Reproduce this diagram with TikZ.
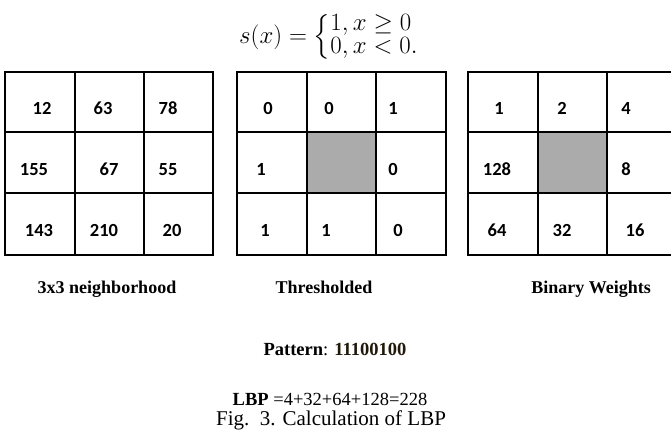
\documentclass[tikz,border=0pt]{standalone}
\usepackage{amsmath}
\usepackage{fontspec}
\usepackage{tikz}
\usetikzlibrary{positioning}
\newfontfamily\cellfont{Carlito}
\newfontfamily\timesfont{Liberation Serif}
\definecolor{patterncol}{RGB}{32,24,10}

\begin{document}
\begin{tikzpicture}[x=1pt, y=-1pt,
  grid/.style={line width=2.4pt},
  centre/.style={fill=black!33},
  cell/.style={anchor=base, inner sep=0pt, font=\cellfont\bfseries\fontsize{18.5}{20}\selectfont},
  caption/.style={anchor=base, inner sep=0pt, font=\timesfont\bfseries\fontsize{18}{20}\selectfont}]
\useasboundingbox (0,0) rectangle (671,435);

% equation
\node[inner sep=0pt] (eq) at (329,37) {\fontsize{28}{22}\selectfont
  \delimiterfactor=780 \delimitershortfall=12pt
  $s(x)=\left\{\renewcommand{\arraystretch}{1}\begin{array}{@{}l@{}}1,x\geq 0\\ 0,x<0.\end{array}\right.$};

% 3x3 neighborhood
\draw[grid] (5,72) rectangle (213,255);
\draw[grid] (75,72) -- (75,255);
\draw[grid] (144,72) -- (144,255);
\draw[grid] (5,132) -- (213,132);
\draw[grid] (5,193) -- (213,193);
\node[cell] (a1) at (42,115) {12};
\node[cell] (a2) at (103,115) {63};
\node[cell] (a3) at (168,115) {78};
\node[cell] (a4) at (34,176) {155};
\node[cell] (a5) at (109,176) {67};
\node[cell] (a6) at (168,176) {55};
\node[cell] (a7) at (39,237) {143};
\node[cell] (a8) at (104,237) {210};
\node[cell] (a9) at (172,237) {20};
\node[caption] (la) at (107,293) {3x3 neighborhood};

% thresholded
\fill[centre] (307,132) rectangle (376,193);
\draw[grid] (237,72) rectangle (446,255);
\draw[grid] (307,72) -- (307,255);
\draw[grid] (376,72) -- (376,255);
\draw[grid] (237,132) -- (446,132);
\draw[grid] (237,193) -- (446,193);
\node[cell] (b1) at (268,115) {0};
\node[cell] (b2) at (329,115) {0};
\node[cell] (b3) at (393,115) {1};
\node[cell] (b4) at (261,176) {1};
\node[cell] (b6) at (393,176) {0};
\node[cell] (b7) at (265,237) {1};
\node[cell] (b8) at (326,237) {1};
\node[cell] (b9) at (398,237) {0};
\node[caption] (lb) at (324,293) {Thresholded};

% binary weights
\fill[centre] (538,132) rectangle (607,193);
\draw[grid] (468,72) rectangle (677,255);
\draw[grid] (538,72) -- (538,255);
\draw[grid] (607,72) -- (607,255);
\draw[grid] (468,132) -- (677,132);
\draw[grid] (468,193) -- (677,193);
\node[cell] (c1) at (499,115) {1};
\node[cell] (c2) at (562,115) {2};
\node[cell] (c3) at (626,115) {4};
\node[cell] (c4) at (497,176) {128};
\node[cell] (c6) at (626,176) {8};
\node[cell] (c7) at (497,237) {64};
\node[cell] (c8) at (562,237) {32};
\node[cell] (c9) at (635,237) {16};
\node[caption] (lc) at (591,293) {Binary Weights};

% result
\node[anchor=base, inner sep=0pt, font=\timesfont\fontsize{18.5}{20}\selectfont] (pat) at (335,355)
  {\textbf{Pattern}: \textbf{\color{patterncol}11100100}};
\node[anchor=base, inner sep=0pt, font=\timesfont\fontsize{18.5}{20}\selectfont] (lbp) at (330,405)
  {\textbf{LBP} =4+32+64+128=228};
\node[anchor=base, inner sep=0pt, font=\timesfont\fontsize{21}{23}\selectfont] (fig) at (331,425)
  {Fig.\ \ 3. Calculation of LBP};
\end{tikzpicture}
\end{document}
